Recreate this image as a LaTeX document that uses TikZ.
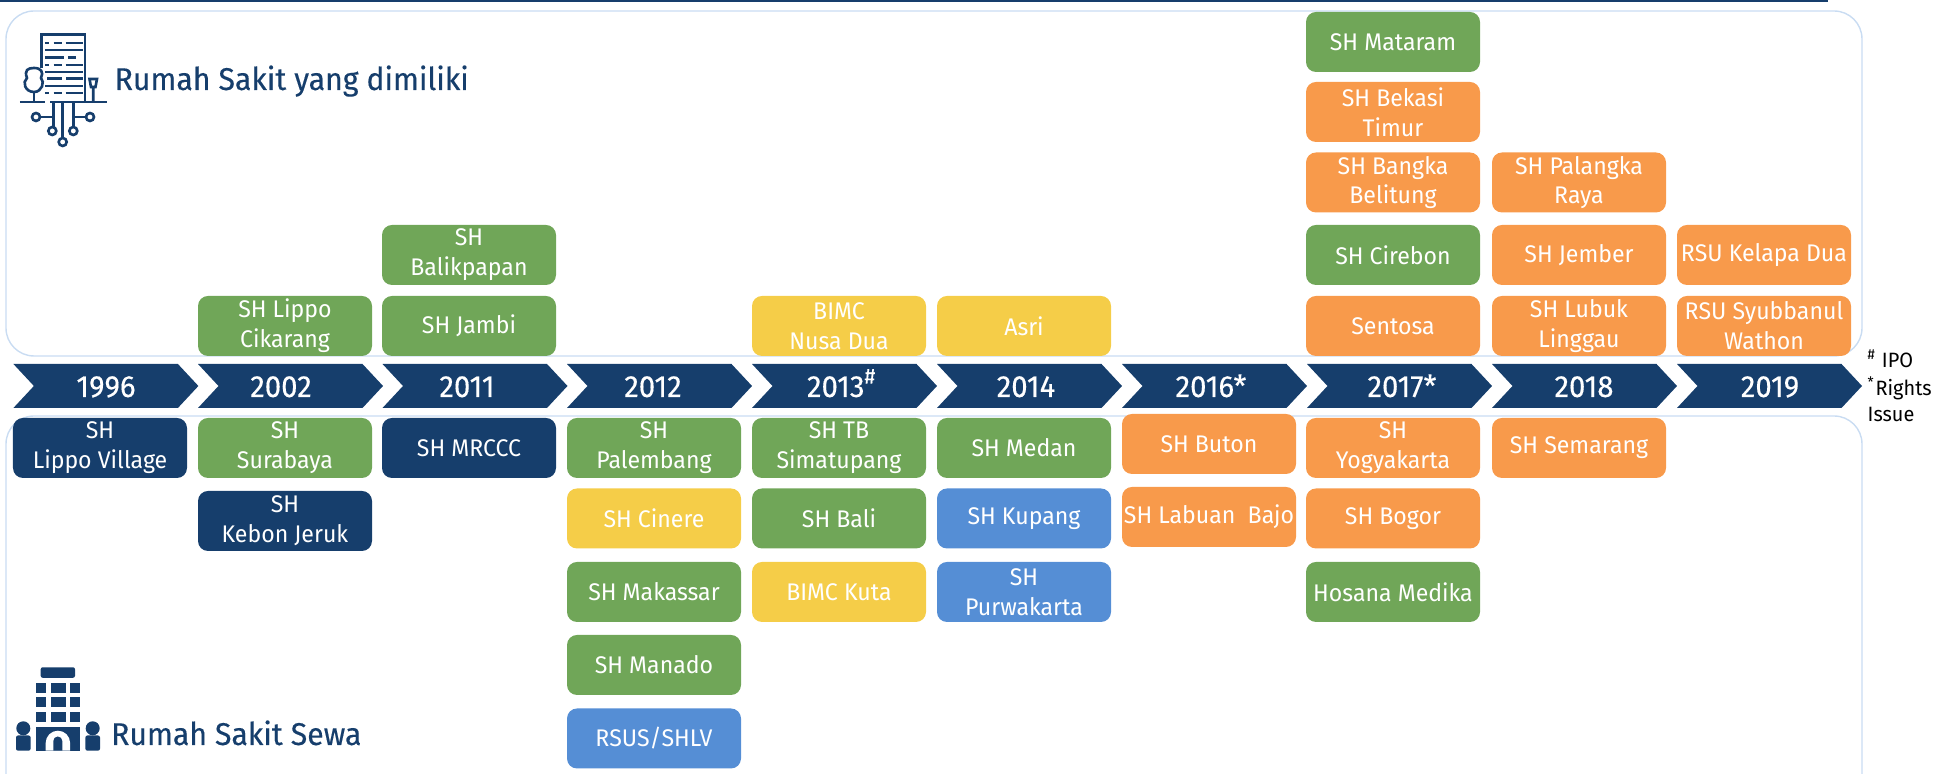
\documentclass[tikz,border=0pt]{standalone}
\usepackage{fontspec}
\setmainfont[FakeStretch=0.96]{Fira Sans}
\definecolor{navy}{HTML}{163E6C}
\definecolor{leaf}{HTML}{70A658}
\definecolor{peach}{HTML}{F89A4B}
\definecolor{sun}{HTML}{F5CD48}
\definecolor{sky}{HTML}{558ED5}
\definecolor{rim}{HTML}{C9DCF2}
\tikzset{
  hosp/.style={rounded corners=0.1cm, minimum width=1.74cm, minimum height=0.6cm, inner sep=0pt,
    align=center, text=white, font=\fontsize{6.85pt}{8.5pt}\selectfont},
  navybox/.style={hosp, fill=navy},
  leafbox/.style={hosp, fill=leaf},
  peachbox/.style={hosp, fill=peach},
  sunbox/.style={hosp, fill=sun},
  skybox/.style={hosp, fill=sky},
  panel/.style={draw=rim, line width=0.4pt, rounded corners=0.28cm},
  yeartext/.style={text=white, inner sep=0pt, anchor=base, font=\fontsize{8.7pt}{9pt}\selectfont\addfontfeature{FakeBold=0.3}},
  heading/.style={text=navy, inner sep=0pt, anchor=base west, font=\fontsize{8.95pt}{10pt}\selectfont\addfontfeature{FakeBold=0.3}},
  footnote/.style={inner sep=0pt, anchor=base west, font=\fontsize{5.9pt}{7pt}\selectfont},
  iconline/.style={draw=navy, line width=0.75pt},
  iconfill/.style={fill=navy}
}
\begin{document}
\begin{tikzpicture}
  \useasboundingbox (0,0) rectangle (19.33,7.74);
  \fill[navy] (0,7.72) rectangle (18.28,7.74);
  % panels
  \draw[panel] (0.06,4.18) rectangle (18.62,7.63);
  \draw[panel] (0.06,-0.5) rectangle (18.62,3.58);
  % year bar
  \foreach \x/\tx/\yr/\nm in {0.134/1.06/1996/a, 1.98/2.81/2002/b, 3.825/4.67/2011/c, 5.67/6.53/2012/d,
      7.52/8.42/2013\textsuperscript{\#}/e, 9.37/10.26/2014/f, 11.22/12.11/2016*/g, 13.07/14.02/2017*/h,
      14.92/15.84/2018/i, 16.77/17.70/2019/j} {
    \fill[navy] (\x,4.10) -- ++(1.645,0) -- ++(0.205,-0.22) -- ++(-0.205,-0.22) -- ++(-1.645,0)
      -- ++(0.205,0.22) -- cycle;
    \node[yeartext] (year\nm) at (\tx,3.77) {\yr};
  }
  % owned hospitals
  \node[leafbox] (lippocikarang) at (2.85,4.48) {SH Lippo\\Cikarang};
  \node[leafbox] (balikpapan) at (4.69,5.19) {SH\\Balikpapan};
  \node[leafbox] (jambi) at (4.69,4.48) {SH Jambi};
  \node[sunbox] (nusadua) at (8.39,4.48) {BIMC\\Nusa Dua};
  \node[sunbox] (asri) at (10.24,4.48) {Asri};
  \node[leafbox] (mataram) at (13.93,7.32) {SH Mataram};
  \node[peachbox] (bekasi) at (13.93,6.62) {SH Bekasi\\Timur};
  \node[peachbox] (bangka) at (13.93,5.915) {SH Bangka\\Belitung};
  \node[leafbox] (cirebon) at (13.93,5.19) {SH Cirebon};
  \node[peachbox] (sentosa) at (13.93,4.48) {Sentosa};
  \node[peachbox] (palangka) at (15.79,5.915) {SH Palangka\\Raya};
  \node[peachbox] (jember) at (15.79,5.19) {SH Jember};
  \node[peachbox] (lubuk) at (15.79,4.48) {SH Lubuk\\Linggau};
  \node[peachbox] (kelapa) at (17.64,5.19) {RSU Kelapa Dua};
  \node[peachbox] (syubbanul) at (17.64,4.48) {RSU Syubbanul\\Wathon};
  % leased hospitals
  \node[navybox] (lippovillage) at (1.00,3.26) {SH\\Lippo Village};
  \node[leafbox] (surabaya) at (2.85,3.26) {SH\\Surabaya};
  \node[navybox] (kebon) at (2.85,2.53) {SH\\Kebon Jeruk};
  \node[navybox] (mrccc) at (4.69,3.26) {SH MRCCC};
  \node[leafbox] (palembang) at (6.54,3.26) {SH\\Palembang};
  \node[sunbox] (cinere) at (6.54,2.555) {SH Cinere};
  \node[leafbox] (makassar) at (6.54,1.82) {SH Makassar};
  \node[leafbox] (manado) at (6.54,1.09) {SH Manado};
  \node[skybox] (rsus) at (6.54,0.355) {RSUS/SHLV};
  \node[leafbox] (simatupang) at (8.39,3.26) {SH TB\\Simatupang};
  \node[leafbox] (bali) at (8.39,2.555) {SH Bali};
  \node[sunbox] (kuta) at (8.39,1.82) {BIMC Kuta};
  \node[leafbox] (medan) at (10.24,3.26) {SH Medan};
  \node[skybox] (kupang) at (10.24,2.555) {SH Kupang};
  \node[skybox] (purwakarta) at (10.24,1.82) {SH\\Purwakarta};
  \node[peachbox] (buton) at (12.09,3.30) {SH Buton};
  \node[peachbox] (labuan) at (12.09,2.57) {SH Labuan\ \ Bajo};
  \node[peachbox] (yogyakarta) at (13.93,3.26) {SH\\Yogyakarta};
  \node[peachbox] (bogor) at (13.93,2.555) {SH Bogor};
  \node[leafbox] (hosana) at (13.93,1.82) {Hosana Medika};
  \node[peachbox] (semarang) at (15.79,3.26) {SH Semarang};
  % headings
  \node[heading] (owned) at (1.14,6.84) {Rumah Sakit yang dimiliki};
  \node[heading] (leased) at (1.105,0.29) {Rumah Sakit Sewa};
  % footnotes
  \node[footnote] (ipo) at (18.67,4.06) {\textsuperscript{\#} IPO};
  \node[footnote] (rights) at (18.67,3.78) {\textsuperscript{*}Rights};
  \node[footnote] (issue) at (18.67,3.52) {Issue};
  % tower icon
  \draw[iconline] (0.417,7.06) -- (0.417,7.397) -- (0.85,7.397) -- (0.85,6.72);
  \draw[iconline] (0.20,6.72) -- (0.45,6.72) (0.50,6.72) -- (1.067,6.72);
  \foreach \y in {7.31,7.09,6.81} {
    \draw[iconline] (0.45,\y) -- (0.49,\y) (0.535,\y) -- (0.62,\y) (0.655,\y) -- (0.83,\y);
  }
  \foreach \y in {7.24,7.02,6.88}
    \draw[iconline] (0.45,\y) -- (0.83,\y);
  \draw[iconline] (0.45,7.165) -- (0.64,7.165) (0.68,7.165) -- (0.76,7.165);
  \draw[iconline] (0.47,6.955) -- (0.62,6.955) (0.66,6.955) -- (0.83,6.955);
  \draw[iconline] (0.34,6.72) -- (0.34,6.86);
  \draw[iconline, fill=white] (0.34,6.82) .. controls (0.25,6.82) and (0.22,6.92) .. (0.27,6.96)
    .. controls (0.24,7.04) and (0.28,7.06) .. (0.34,7.06) .. controls (0.41,7.06) and (0.44,7.02) .. (0.41,6.96)
    .. controls (0.45,6.92) and (0.42,6.82) .. (0.34,6.82);
  \draw[iconline] (0.933,6.72) -- (0.933,6.87) (0.895,6.95) -- (0.97,6.95) -- (0.955,6.87) -- (0.91,6.87) -- cycle;
  \draw[iconline] (0.533,6.72) -- (0.533,6.47) (0.627,6.72) -- (0.627,6.36) (0.733,6.72) -- (0.733,6.47);
  \draw[iconline] (0.40,6.57) -- (0.533,6.57) (0.733,6.57) -- (0.86,6.57);
  \foreach \cx/\cy in {0.36/6.57, 0.90/6.57, 0.523/6.43, 0.733/6.43, 0.627/6.32}
    \draw[iconline] (\cx,\cy) circle (0.04);
  % rented hospital icon
  \fill[iconfill, rounded corners=0.02cm] (0.407,0.962) rectangle (0.75,1.067);
  \foreach \y in {0.807,0.667,0.517} {
    \fill[iconfill] (0.36,\y) rectangle (0.46,\y+0.106);
    \fill[iconfill] (0.51,\y) rectangle (0.66,\y+0.106);
    \fill[iconfill] (0.70,\y) rectangle (0.80,\y+0.106);
  }
  \fill[iconfill] (0.36,0.233) rectangle (0.80,0.473);
  \fill[white] (0.457,0.233) -- (0.457,0.311) arc (180:0:0.122) -- (0.70,0.233) -- cycle;
  \fill[iconfill] (0.533,0.233) -- (0.533,0.33) arc (180:0:0.045) -- (0.623,0.233) -- cycle;
  \foreach \cx in {0.233,0.927} {
    \fill[iconfill] (\cx,0.457) circle (0.07);
    \fill[iconfill, rounded corners=0.02cm] (\cx-0.073,0.233) rectangle (\cx+0.073,0.385);
  }
\end{tikzpicture}
\end{document}
